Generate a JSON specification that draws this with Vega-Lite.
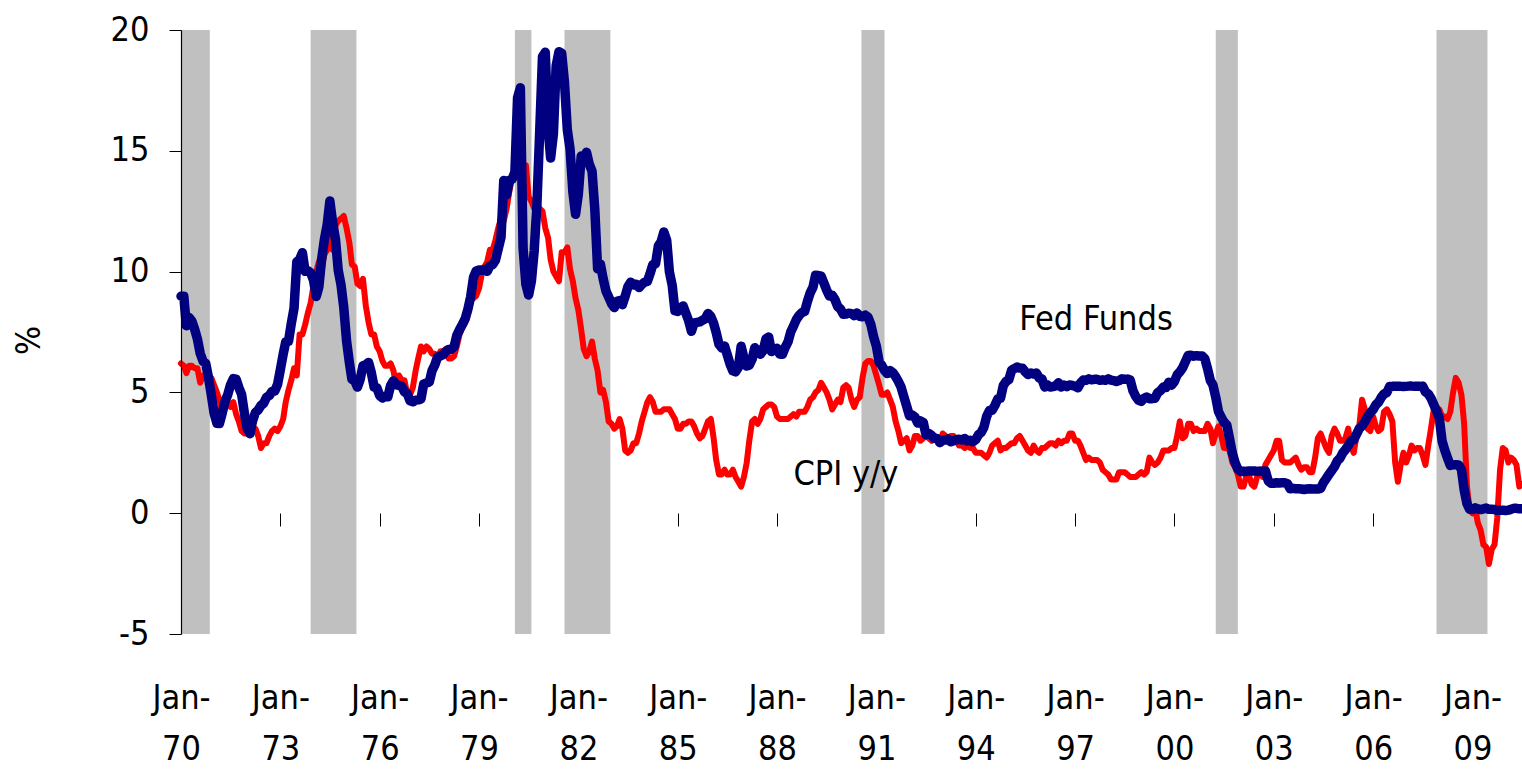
{
"$schema":"https://vega.github.io/schema/vega-lite/v6.json",
"width":1341,"height":604,
"autosize":{"type":"none"},
"padding":{"left":181,"top":30,"right":0,"bottom":139},
"background":"white",
"config":{"view":{"stroke":null},"font":"'DejaVu Sans Condensed', 'Liberation Sans', sans-serif"},
"datasets":{
"rec":[{"s":"1970-01-01","e":"1970-11-15"},{"s":"1973-12-01","e":"1975-04-20"},{"s":"1980-02-01","e":"1980-08-01"},{"s":"1981-08-01","e":"1982-12-20"},{"s":"1990-07-20","e":"1991-04-01"},{"s":"2001-04-01","e":"2001-12-01"},{"s":"2007-12-01","e":"2009-06-15"}],
"notes":[{"label":"Fed Funds","d":"1997-08-20","v":7.6},{"label":"CPI y/y","d":"1990-01-30","v":1.17}],
"r":[
{"d":"1970-01","f":8.98,"c":6.2},{"d":"1970-02","f":8.98,"c":6.1},{"d":"1970-03","f":7.76,"c":5.8},{"d":"1970-04","f":8.10,"c":6.1},{"d":"1970-05","f":7.95,"c":6.1},{"d":"1970-06","f":7.61,"c":6.0},{"d":"1970-07","f":7.21,"c":6.0},{"d":"1970-08","f":6.61,"c":5.4},{"d":"1970-09","f":6.29,"c":5.7},{"d":"1970-10","f":6.20,"c":5.7},{"d":"1970-11","f":5.60,"c":5.6},{"d":"1970-12","f":4.90,"c":5.6},
{"d":"1971-01","f":4.14,"c":5.3},{"d":"1971-02","f":3.72,"c":5.0},{"d":"1971-03","f":3.71,"c":4.7},{"d":"1971-04","f":4.15,"c":4.2},{"d":"1971-05","f":4.63,"c":4.4},{"d":"1971-06","f":4.91,"c":4.6},{"d":"1971-07","f":5.31,"c":4.4},{"d":"1971-08","f":5.57,"c":4.6},{"d":"1971-09","f":5.55,"c":4.1},{"d":"1971-10","f":5.20,"c":3.8},{"d":"1971-11","f":4.91,"c":3.4},{"d":"1971-12","f":4.14,"c":3.3},
{"d":"1972-01","f":3.50,"c":3.3},{"d":"1972-02","f":3.29,"c":3.5},{"d":"1972-03","f":3.83,"c":3.5},{"d":"1972-04","f":4.17,"c":3.5},{"d":"1972-05","f":4.27,"c":3.2},{"d":"1972-06","f":4.46,"c":2.7},{"d":"1972-07","f":4.55,"c":2.9},{"d":"1972-08","f":4.80,"c":2.9},{"d":"1972-09","f":4.87,"c":3.2},{"d":"1972-10","f":5.04,"c":3.4},{"d":"1972-11","f":5.06,"c":3.5},{"d":"1972-12","f":5.33,"c":3.4},
{"d":"1973-01","f":5.94,"c":3.6},{"d":"1973-02","f":6.58,"c":3.9},{"d":"1973-03","f":7.09,"c":4.6},{"d":"1973-04","f":7.12,"c":5.1},{"d":"1973-05","f":7.84,"c":5.5},{"d":"1973-06","f":8.49,"c":6.0},{"d":"1973-07","f":10.40,"c":5.7},{"d":"1973-08","f":10.50,"c":7.4},{"d":"1973-09","f":10.78,"c":7.4},{"d":"1973-10","f":10.01,"c":7.8},{"d":"1973-11","f":10.03,"c":8.3},{"d":"1973-12","f":9.95,"c":8.7},
{"d":"1974-01","f":9.65,"c":9.4},{"d":"1974-02","f":8.97,"c":10.0},{"d":"1974-03","f":9.35,"c":10.4},{"d":"1974-04","f":10.51,"c":10.1},{"d":"1974-05","f":11.31,"c":10.7},{"d":"1974-06","f":11.93,"c":10.9},{"d":"1974-07","f":12.92,"c":11.5},{"d":"1974-08","f":12.01,"c":10.9},{"d":"1974-09","f":11.34,"c":11.9},{"d":"1974-10","f":10.06,"c":12.1},{"d":"1974-11","f":9.45,"c":12.2},{"d":"1974-12","f":8.53,"c":12.3},
{"d":"1975-01","f":7.13,"c":11.8},{"d":"1975-02","f":6.24,"c":11.2},{"d":"1975-03","f":5.54,"c":10.3},{"d":"1975-04","f":5.49,"c":10.2},{"d":"1975-05","f":5.22,"c":9.5},{"d":"1975-06","f":5.55,"c":9.4},{"d":"1975-07","f":6.10,"c":9.7},{"d":"1975-08","f":6.14,"c":8.6},{"d":"1975-09","f":6.24,"c":7.9},{"d":"1975-10","f":5.82,"c":7.4},{"d":"1975-11","f":5.22,"c":7.4},{"d":"1975-12","f":5.20,"c":6.9},
{"d":"1976-01","f":4.87,"c":6.7},{"d":"1976-02","f":4.77,"c":6.3},{"d":"1976-03","f":4.84,"c":6.1},{"d":"1976-04","f":4.82,"c":6.1},{"d":"1976-05","f":5.29,"c":6.2},{"d":"1976-06","f":5.48,"c":5.9},{"d":"1976-07","f":5.31,"c":5.3},{"d":"1976-08","f":5.29,"c":5.7},{"d":"1976-09","f":5.25,"c":5.5},{"d":"1976-10","f":5.02,"c":5.5},{"d":"1976-11","f":4.95,"c":4.9},{"d":"1976-12","f":4.65,"c":4.9},
{"d":"1977-01","f":4.61,"c":5.2},{"d":"1977-02","f":4.68,"c":5.9},{"d":"1977-03","f":4.69,"c":6.4},{"d":"1977-04","f":4.73,"c":6.9},{"d":"1977-05","f":5.35,"c":6.7},{"d":"1977-06","f":5.39,"c":6.9},{"d":"1977-07","f":5.42,"c":6.8},{"d":"1977-08","f":5.90,"c":6.6},{"d":"1977-09","f":6.14,"c":6.6},{"d":"1977-10","f":6.47,"c":6.4},{"d":"1977-11","f":6.51,"c":6.7},{"d":"1977-12","f":6.56,"c":6.7},
{"d":"1978-01","f":6.70,"c":6.8},{"d":"1978-02","f":6.78,"c":6.4},{"d":"1978-03","f":6.79,"c":6.4},{"d":"1978-04","f":6.89,"c":6.5},{"d":"1978-05","f":7.36,"c":6.9},{"d":"1978-06","f":7.60,"c":7.4},{"d":"1978-07","f":7.81,"c":7.7},{"d":"1978-08","f":8.04,"c":7.9},{"d":"1978-09","f":8.45,"c":8.3},{"d":"1978-10","f":8.96,"c":8.9},{"d":"1978-11","f":9.76,"c":8.9},{"d":"1978-12","f":10.03,"c":9.0},
{"d":"1979-01","f":10.07,"c":9.3},{"d":"1979-02","f":10.06,"c":9.9},{"d":"1979-03","f":10.09,"c":10.2},{"d":"1979-04","f":10.01,"c":10.4},{"d":"1979-05","f":10.24,"c":10.9},{"d":"1979-06","f":10.29,"c":10.9},{"d":"1979-07","f":10.47,"c":11.3},{"d":"1979-08","f":10.94,"c":11.8},{"d":"1979-09","f":11.43,"c":12.2},{"d":"1979-10","f":13.77,"c":12.1},{"d":"1979-11","f":13.18,"c":12.6},{"d":"1979-12","f":13.78,"c":13.3},
{"d":"1980-01","f":13.82,"c":13.9},{"d":"1980-02","f":14.13,"c":14.2},{"d":"1980-03","f":17.19,"c":14.8},{"d":"1980-04","f":17.61,"c":14.7},{"d":"1980-05","f":10.98,"c":14.4},{"d":"1980-06","f":9.47,"c":14.4},{"d":"1980-07","f":9.03,"c":13.1},{"d":"1980-08","f":9.61,"c":12.9},{"d":"1980-09","f":10.87,"c":12.6},{"d":"1980-10","f":12.81,"c":12.8},{"d":"1980-11","f":15.85,"c":12.6},{"d":"1980-12","f":18.90,"c":12.5},
{"d":"1981-01","f":19.08,"c":11.8},{"d":"1981-02","f":15.93,"c":11.4},{"d":"1981-03","f":14.70,"c":10.5},{"d":"1981-04","f":15.72,"c":10.0},{"d":"1981-05","f":18.52,"c":9.8},{"d":"1981-06","f":19.10,"c":9.6},{"d":"1981-07","f":19.04,"c":10.8},{"d":"1981-08","f":17.82,"c":10.8},{"d":"1981-09","f":15.87,"c":11.0},{"d":"1981-10","f":15.08,"c":10.1},{"d":"1981-11","f":13.31,"c":9.6},{"d":"1981-12","f":12.37,"c":8.9},
{"d":"1982-01","f":13.22,"c":8.4},{"d":"1982-02","f":14.78,"c":7.6},{"d":"1982-03","f":14.68,"c":6.8},{"d":"1982-04","f":14.94,"c":6.5},{"d":"1982-05","f":14.45,"c":6.7},{"d":"1982-06","f":14.15,"c":7.1},{"d":"1982-07","f":12.59,"c":6.4},{"d":"1982-08","f":10.12,"c":5.9},{"d":"1982-09","f":10.31,"c":5.0},{"d":"1982-10","f":9.71,"c":5.1},{"d":"1982-11","f":9.20,"c":4.6},{"d":"1982-12","f":8.95,"c":3.8},
{"d":"1983-01","f":8.68,"c":3.7},{"d":"1983-02","f":8.51,"c":3.5},{"d":"1983-03","f":8.77,"c":3.6},{"d":"1983-04","f":8.80,"c":3.9},{"d":"1983-05","f":8.63,"c":3.5},{"d":"1983-06","f":8.98,"c":2.6},{"d":"1983-07","f":9.37,"c":2.5},{"d":"1983-08","f":9.56,"c":2.6},{"d":"1983-09","f":9.45,"c":2.9},{"d":"1983-10","f":9.48,"c":2.9},{"d":"1983-11","f":9.34,"c":3.3},{"d":"1983-12","f":9.47,"c":3.8},
{"d":"1984-01","f":9.56,"c":4.2},{"d":"1984-02","f":9.59,"c":4.6},{"d":"1984-03","f":9.91,"c":4.8},{"d":"1984-04","f":10.29,"c":4.6},{"d":"1984-05","f":10.32,"c":4.2},{"d":"1984-06","f":11.06,"c":4.2},{"d":"1984-07","f":11.23,"c":4.2},{"d":"1984-08","f":11.64,"c":4.3},{"d":"1984-09","f":11.30,"c":4.3},{"d":"1984-10","f":9.99,"c":4.3},{"d":"1984-11","f":9.43,"c":4.1},{"d":"1984-12","f":8.38,"c":3.9},
{"d":"1985-01","f":8.35,"c":3.5},{"d":"1985-02","f":8.50,"c":3.5},{"d":"1985-03","f":8.58,"c":3.7},{"d":"1985-04","f":8.27,"c":3.7},{"d":"1985-05","f":7.97,"c":3.8},{"d":"1985-06","f":7.53,"c":3.8},{"d":"1985-07","f":7.88,"c":3.6},{"d":"1985-08","f":7.90,"c":3.3},{"d":"1985-09","f":7.92,"c":3.1},{"d":"1985-10","f":7.99,"c":3.2},{"d":"1985-11","f":8.05,"c":3.5},{"d":"1985-12","f":8.27,"c":3.8},
{"d":"1986-01","f":8.14,"c":3.9},{"d":"1986-02","f":7.86,"c":3.1},{"d":"1986-03","f":7.48,"c":2.2},{"d":"1986-04","f":6.99,"c":1.6},{"d":"1986-05","f":6.85,"c":1.6},{"d":"1986-06","f":6.92,"c":1.8},{"d":"1986-07","f":6.56,"c":1.6},{"d":"1986-08","f":6.17,"c":1.6},{"d":"1986-09","f":5.89,"c":1.8},{"d":"1986-10","f":5.85,"c":1.5},{"d":"1986-11","f":6.04,"c":1.3},{"d":"1986-12","f":6.91,"c":1.1},
{"d":"1987-01","f":6.43,"c":1.5},{"d":"1987-02","f":6.10,"c":2.1},{"d":"1987-03","f":6.13,"c":3.0},{"d":"1987-04","f":6.37,"c":3.8},{"d":"1987-05","f":6.85,"c":3.9},{"d":"1987-06","f":6.73,"c":3.7},{"d":"1987-07","f":6.58,"c":3.9},{"d":"1987-08","f":6.73,"c":4.3},{"d":"1987-09","f":7.22,"c":4.4},{"d":"1987-10","f":7.29,"c":4.5},{"d":"1987-11","f":6.69,"c":4.5},{"d":"1987-12","f":6.77,"c":4.4},
{"d":"1988-01","f":6.83,"c":4.0},{"d":"1988-02","f":6.58,"c":3.9},{"d":"1988-03","f":6.58,"c":3.9},{"d":"1988-04","f":6.87,"c":3.9},{"d":"1988-05","f":7.09,"c":3.9},{"d":"1988-06","f":7.51,"c":4.0},{"d":"1988-07","f":7.75,"c":4.1},{"d":"1988-08","f":8.01,"c":4.0},{"d":"1988-09","f":8.19,"c":4.2},{"d":"1988-10","f":8.30,"c":4.2},{"d":"1988-11","f":8.35,"c":4.2},{"d":"1988-12","f":8.76,"c":4.4},
{"d":"1989-01","f":9.12,"c":4.7},{"d":"1989-02","f":9.36,"c":4.8},{"d":"1989-03","f":9.85,"c":5.0},{"d":"1989-04","f":9.84,"c":5.1},{"d":"1989-05","f":9.81,"c":5.4},{"d":"1989-06","f":9.53,"c":5.2},{"d":"1989-07","f":9.24,"c":5.0},{"d":"1989-08","f":8.99,"c":4.7},{"d":"1989-09","f":9.02,"c":4.3},{"d":"1989-10","f":8.84,"c":4.5},{"d":"1989-11","f":8.55,"c":4.7},{"d":"1989-12","f":8.45,"c":4.6},
{"d":"1990-01","f":8.23,"c":5.2},{"d":"1990-02","f":8.24,"c":5.3},{"d":"1990-03","f":8.28,"c":5.2},{"d":"1990-04","f":8.26,"c":4.7},{"d":"1990-05","f":8.18,"c":4.4},{"d":"1990-06","f":8.29,"c":4.7},{"d":"1990-07","f":8.15,"c":4.8},{"d":"1990-08","f":8.13,"c":5.6},{"d":"1990-09","f":8.20,"c":6.2},{"d":"1990-10","f":8.11,"c":6.3},{"d":"1990-11","f":7.81,"c":6.3},{"d":"1990-12","f":7.31,"c":6.1},
{"d":"1991-01","f":6.91,"c":5.7},{"d":"1991-02","f":6.25,"c":5.3},{"d":"1991-03","f":6.12,"c":4.9},{"d":"1991-04","f":5.91,"c":4.9},{"d":"1991-05","f":5.78,"c":5.0},{"d":"1991-06","f":5.90,"c":4.7},{"d":"1991-07","f":5.82,"c":4.4},{"d":"1991-08","f":5.66,"c":3.8},{"d":"1991-09","f":5.45,"c":3.4},{"d":"1991-10","f":5.21,"c":2.9},{"d":"1991-11","f":4.81,"c":3.0},{"d":"1991-12","f":4.43,"c":3.1},
{"d":"1992-01","f":4.03,"c":2.6},{"d":"1992-02","f":4.06,"c":2.8},{"d":"1992-03","f":3.98,"c":3.2},{"d":"1992-04","f":3.73,"c":3.2},{"d":"1992-05","f":3.82,"c":3.0},{"d":"1992-06","f":3.76,"c":3.1},{"d":"1992-07","f":3.25,"c":3.2},{"d":"1992-08","f":3.30,"c":3.1},{"d":"1992-09","f":3.22,"c":3.0},{"d":"1992-10","f":3.10,"c":3.2},{"d":"1992-11","f":3.09,"c":3.0},{"d":"1992-12","f":2.92,"c":2.9},
{"d":"1993-01","f":3.02,"c":3.3},{"d":"1993-02","f":3.03,"c":3.2},{"d":"1993-03","f":3.07,"c":3.1},{"d":"1993-04","f":2.96,"c":3.2},{"d":"1993-05","f":3.00,"c":3.2},{"d":"1993-06","f":3.04,"c":3.0},{"d":"1993-07","f":3.06,"c":2.8},{"d":"1993-08","f":3.03,"c":2.8},{"d":"1993-09","f":3.09,"c":2.7},{"d":"1993-10","f":2.99,"c":2.8},{"d":"1993-11","f":3.02,"c":2.7},{"d":"1993-12","f":2.96,"c":2.7},
{"d":"1994-01","f":3.05,"c":2.5},{"d":"1994-02","f":3.25,"c":2.5},{"d":"1994-03","f":3.34,"c":2.5},{"d":"1994-04","f":3.56,"c":2.4},{"d":"1994-05","f":4.01,"c":2.3},{"d":"1994-06","f":4.25,"c":2.5},{"d":"1994-07","f":4.26,"c":2.8},{"d":"1994-08","f":4.47,"c":2.9},{"d":"1994-09","f":4.73,"c":3.0},{"d":"1994-10","f":4.76,"c":2.6},{"d":"1994-11","f":5.29,"c":2.7},{"d":"1994-12","f":5.45,"c":2.7},
{"d":"1995-01","f":5.53,"c":2.8},{"d":"1995-02","f":5.92,"c":2.9},{"d":"1995-03","f":5.98,"c":2.9},{"d":"1995-04","f":6.05,"c":3.1},{"d":"1995-05","f":6.01,"c":3.2},{"d":"1995-06","f":6.00,"c":3.0},{"d":"1995-07","f":5.85,"c":2.8},{"d":"1995-08","f":5.74,"c":2.6},{"d":"1995-09","f":5.80,"c":2.5},{"d":"1995-10","f":5.76,"c":2.8},{"d":"1995-11","f":5.80,"c":2.6},{"d":"1995-12","f":5.60,"c":2.5},
{"d":"1996-01","f":5.56,"c":2.7},{"d":"1996-02","f":5.22,"c":2.7},{"d":"1996-03","f":5.31,"c":2.8},{"d":"1996-04","f":5.22,"c":2.9},{"d":"1996-05","f":5.24,"c":2.9},{"d":"1996-06","f":5.27,"c":2.8},{"d":"1996-07","f":5.40,"c":3.0},{"d":"1996-08","f":5.22,"c":2.9},{"d":"1996-09","f":5.30,"c":3.0},{"d":"1996-10","f":5.24,"c":3.0},{"d":"1996-11","f":5.31,"c":3.3},{"d":"1996-12","f":5.29,"c":3.3},
{"d":"1997-01","f":5.25,"c":3.0},{"d":"1997-02","f":5.19,"c":3.0},{"d":"1997-03","f":5.39,"c":2.8},{"d":"1997-04","f":5.51,"c":2.5},{"d":"1997-05","f":5.50,"c":2.2},{"d":"1997-06","f":5.56,"c":2.3},{"d":"1997-07","f":5.52,"c":2.2},{"d":"1997-08","f":5.54,"c":2.2},{"d":"1997-09","f":5.54,"c":2.2},{"d":"1997-10","f":5.50,"c":2.1},{"d":"1997-11","f":5.52,"c":1.8},{"d":"1997-12","f":5.50,"c":1.7},
{"d":"1998-01","f":5.56,"c":1.6},{"d":"1998-02","f":5.51,"c":1.4},{"d":"1998-03","f":5.49,"c":1.4},{"d":"1998-04","f":5.45,"c":1.4},{"d":"1998-05","f":5.49,"c":1.7},{"d":"1998-06","f":5.56,"c":1.7},{"d":"1998-07","f":5.54,"c":1.7},{"d":"1998-08","f":5.55,"c":1.6},{"d":"1998-09","f":5.51,"c":1.5},{"d":"1998-10","f":5.07,"c":1.5},{"d":"1998-11","f":4.83,"c":1.5},{"d":"1998-12","f":4.68,"c":1.6},
{"d":"1999-01","f":4.63,"c":1.7},{"d":"1999-02","f":4.76,"c":1.6},{"d":"1999-03","f":4.81,"c":1.7},{"d":"1999-04","f":4.74,"c":2.3},{"d":"1999-05","f":4.74,"c":2.1},{"d":"1999-06","f":4.76,"c":2.0},{"d":"1999-07","f":4.99,"c":2.1},{"d":"1999-08","f":5.07,"c":2.3},{"d":"1999-09","f":5.22,"c":2.6},{"d":"1999-10","f":5.20,"c":2.6},{"d":"1999-11","f":5.42,"c":2.6},{"d":"1999-12","f":5.30,"c":2.7},
{"d":"2000-01","f":5.45,"c":2.7},{"d":"2000-02","f":5.73,"c":3.2},{"d":"2000-03","f":5.85,"c":3.8},{"d":"2000-04","f":6.02,"c":3.1},{"d":"2000-05","f":6.27,"c":3.2},{"d":"2000-06","f":6.53,"c":3.7},{"d":"2000-07","f":6.54,"c":3.7},{"d":"2000-08","f":6.50,"c":3.4},{"d":"2000-09","f":6.52,"c":3.5},{"d":"2000-10","f":6.51,"c":3.4},{"d":"2000-11","f":6.51,"c":3.4},{"d":"2000-12","f":6.40,"c":3.4},
{"d":"2001-01","f":5.98,"c":3.7},{"d":"2001-02","f":5.49,"c":3.5},{"d":"2001-03","f":5.31,"c":2.9},{"d":"2001-04","f":4.80,"c":3.3},{"d":"2001-05","f":4.21,"c":3.6},{"d":"2001-06","f":3.97,"c":3.2},{"d":"2001-07","f":3.77,"c":2.7},{"d":"2001-08","f":3.65,"c":2.7},{"d":"2001-09","f":3.07,"c":2.6},{"d":"2001-10","f":2.49,"c":2.1},{"d":"2001-11","f":2.09,"c":1.9},{"d":"2001-12","f":1.82,"c":1.6},
{"d":"2002-01","f":1.73,"c":1.1},{"d":"2002-02","f":1.74,"c":1.1},{"d":"2002-03","f":1.73,"c":1.5},{"d":"2002-04","f":1.75,"c":1.6},{"d":"2002-05","f":1.75,"c":1.2},{"d":"2002-06","f":1.75,"c":1.1},{"d":"2002-07","f":1.73,"c":1.5},{"d":"2002-08","f":1.74,"c":1.8},{"d":"2002-09","f":1.75,"c":1.5},{"d":"2002-10","f":1.75,"c":2.0},{"d":"2002-11","f":1.34,"c":2.2},{"d":"2002-12","f":1.24,"c":2.4},
{"d":"2003-01","f":1.24,"c":2.6},{"d":"2003-02","f":1.26,"c":3.0},{"d":"2003-03","f":1.25,"c":3.0},{"d":"2003-04","f":1.26,"c":2.2},{"d":"2003-05","f":1.26,"c":2.1},{"d":"2003-06","f":1.22,"c":2.1},{"d":"2003-07","f":1.01,"c":2.1},{"d":"2003-08","f":1.03,"c":2.2},{"d":"2003-09","f":1.01,"c":2.3},{"d":"2003-10","f":1.01,"c":2.0},{"d":"2003-11","f":1.00,"c":1.8},{"d":"2003-12","f":0.98,"c":1.9},
{"d":"2004-01","f":1.00,"c":1.9},{"d":"2004-02","f":1.01,"c":1.7},{"d":"2004-03","f":1.00,"c":1.7},{"d":"2004-04","f":1.00,"c":2.3},{"d":"2004-05","f":1.00,"c":3.1},{"d":"2004-06","f":1.03,"c":3.3},{"d":"2004-07","f":1.26,"c":3.0},{"d":"2004-08","f":1.43,"c":2.7},{"d":"2004-09","f":1.61,"c":2.5},{"d":"2004-10","f":1.76,"c":3.2},{"d":"2004-11","f":1.93,"c":3.5},{"d":"2004-12","f":2.16,"c":3.3},
{"d":"2005-01","f":2.28,"c":3.0},{"d":"2005-02","f":2.50,"c":3.0},{"d":"2005-03","f":2.63,"c":3.1},{"d":"2005-04","f":2.79,"c":3.5},{"d":"2005-05","f":3.00,"c":2.8},{"d":"2005-06","f":3.04,"c":2.5},{"d":"2005-07","f":3.26,"c":3.2},{"d":"2005-08","f":3.50,"c":3.6},{"d":"2005-09","f":3.62,"c":4.7},{"d":"2005-10","f":3.78,"c":4.3},{"d":"2005-11","f":4.00,"c":3.5},{"d":"2005-12","f":4.16,"c":3.4},
{"d":"2006-01","f":4.29,"c":4.0},{"d":"2006-02","f":4.49,"c":3.6},{"d":"2006-03","f":4.59,"c":3.4},{"d":"2006-04","f":4.79,"c":3.5},{"d":"2006-05","f":4.94,"c":4.2},{"d":"2006-06","f":4.99,"c":4.3},{"d":"2006-07","f":5.24,"c":4.1},{"d":"2006-08","f":5.25,"c":3.8},{"d":"2006-09","f":5.25,"c":2.1},{"d":"2006-10","f":5.25,"c":1.3},{"d":"2006-11","f":5.25,"c":2.0},{"d":"2006-12","f":5.24,"c":2.5},
{"d":"2007-01","f":5.25,"c":2.1},{"d":"2007-02","f":5.26,"c":2.4},{"d":"2007-03","f":5.26,"c":2.8},{"d":"2007-04","f":5.25,"c":2.6},{"d":"2007-05","f":5.25,"c":2.7},{"d":"2007-06","f":5.25,"c":2.7},{"d":"2007-07","f":5.26,"c":2.4},{"d":"2007-08","f":5.02,"c":2.0},{"d":"2007-09","f":4.94,"c":2.8},{"d":"2007-10","f":4.76,"c":3.5},{"d":"2007-11","f":4.49,"c":4.3},{"d":"2007-12","f":4.24,"c":4.1},
{"d":"2008-01","f":3.94,"c":4.3},{"d":"2008-02","f":2.98,"c":4.0},{"d":"2008-03","f":2.61,"c":4.0},{"d":"2008-04","f":2.28,"c":3.9},{"d":"2008-05","f":1.98,"c":4.2},{"d":"2008-06","f":2.00,"c":5.0},{"d":"2008-07","f":2.01,"c":5.6},{"d":"2008-08","f":2.00,"c":5.4},{"d":"2008-09","f":1.81,"c":4.9},{"d":"2008-10","f":0.97,"c":3.7},{"d":"2008-11","f":0.39,"c":1.1},{"d":"2008-12","f":0.16,"c":0.1},
{"d":"2009-01","f":0.15,"c":0.0},{"d":"2009-02","f":0.22,"c":0.2},{"d":"2009-03","f":0.18,"c":-0.4},{"d":"2009-04","f":0.15,"c":-0.7},{"d":"2009-05","f":0.18,"c":-1.3},{"d":"2009-06","f":0.21,"c":-1.4},{"d":"2009-07","f":0.16,"c":-2.1},{"d":"2009-08","f":0.16,"c":-1.5},{"d":"2009-09","f":0.15,"c":-1.3},{"d":"2009-10","f":0.12,"c":-0.2},{"d":"2009-11","f":0.12,"c":1.8},{"d":"2009-12","f":0.12,"c":2.7},
{"d":"2010-01","f":0.11,"c":2.6},{"d":"2010-02","f":0.13,"c":2.1},{"d":"2010-03","f":0.16,"c":2.3},{"d":"2010-04","f":0.20,"c":2.2},{"d":"2010-05","f":0.20,"c":2.0},{"d":"2010-06","f":0.18,"c":1.1},{"d":"2010-07","f":0.18,"c":1.2}
]},
"layer":[
{"data":{"name":"rec"},"mark":{"type":"rect","color":"#C0C0C0","clip":true},
 "encoding":{
  "x":{"field":"s","type":"temporal","scale":{"type":"utc","domain":[{"year":1970,"month":1,"date":1,"utc":true},{"year":2010,"month":7,"date":1,"utc":true}]},
   "axis":{"values":[{"year":1970,"month":1,"date":1,"utc":true},{"year":1973,"month":1,"date":1,"utc":true},{"year":1976,"month":1,"date":1,"utc":true},{"year":1979,"month":1,"date":1,"utc":true},{"year":1982,"month":1,"date":1,"utc":true},{"year":1985,"month":1,"date":1,"utc":true},{"year":1988,"month":1,"date":1,"utc":true},{"year":1991,"month":1,"date":1,"utc":true},{"year":1994,"month":1,"date":1,"utc":true},{"year":1997,"month":1,"date":1,"utc":true},{"year":2000,"month":1,"date":1,"utc":true},{"year":2003,"month":1,"date":1,"utc":true},{"year":2006,"month":1,"date":1,"utc":true},{"year":2009,"month":1,"date":1,"utc":true}],
    "labelExpr":"['Jan-', utcFormat(datum.value, '%y')]","title":null,"offset":-121,"domain":false,"grid":false,
    "tickSize":13,"tickColor":"#000000","tickWidth":1,"labelFontSize":34,"labelColor":"#000000",
    "labelLineHeight":51,"labelBaseline":"alphabetic","labelPadding":182,"labelFlush":false,"labelOverlap":false,"zindex":0}},
  "x2":{"field":"e"}}},
{"mark":{"type":"rule","color":"#000000","strokeWidth":1.2},"encoding":{"y":{"datum":0,"type":"quantitative"}}},
{"data":{"name":"r"},"mark":{"type":"line","color":"#FF0000","strokeWidth":6,"strokeJoin":"round","strokeCap":"round"},
 "encoding":{"x":{"field":"d","type":"temporal"},
  "y":{"field":"c","type":"quantitative","scale":{"domain":[-5,20],"nice":false,"zero":false},
   "axis":{"values":[-5,0,5,10,15,20],"labelExpr":"'' + datum.value","title":"%","titleFontSize":34,"titleFontWeight":"normal","titleColor":"#000000","titleAngle":-90,"titleX":-152,"titleY":310,"titleAlign":"center","titleBaseline":"middle",
    "grid":false,"domainColor":"#000000","domainWidth":1.2,"tickColor":"#000000","tickSize":12,"labelFontSize":34,"labelColor":"#000000","labelPadding":20,"labelFlush":false,"zindex":1}}}},
{"data":{"name":"r"},"mark":{"type":"line","color":"#000080","strokeWidth":9.5,"strokeJoin":"round","strokeCap":"round"},
 "encoding":{"x":{"field":"d","type":"temporal"},"y":{"field":"f","type":"quantitative"}}},
{"data":{"name":"notes"},"mark":{"type":"text","fontSize":34,"color":"#000000","align":"center","baseline":"alphabetic"},
 "encoding":{"x":{"field":"d","type":"temporal"},"y":{"field":"v","type":"quantitative"},"text":{"field":"label"}}}
]
}
